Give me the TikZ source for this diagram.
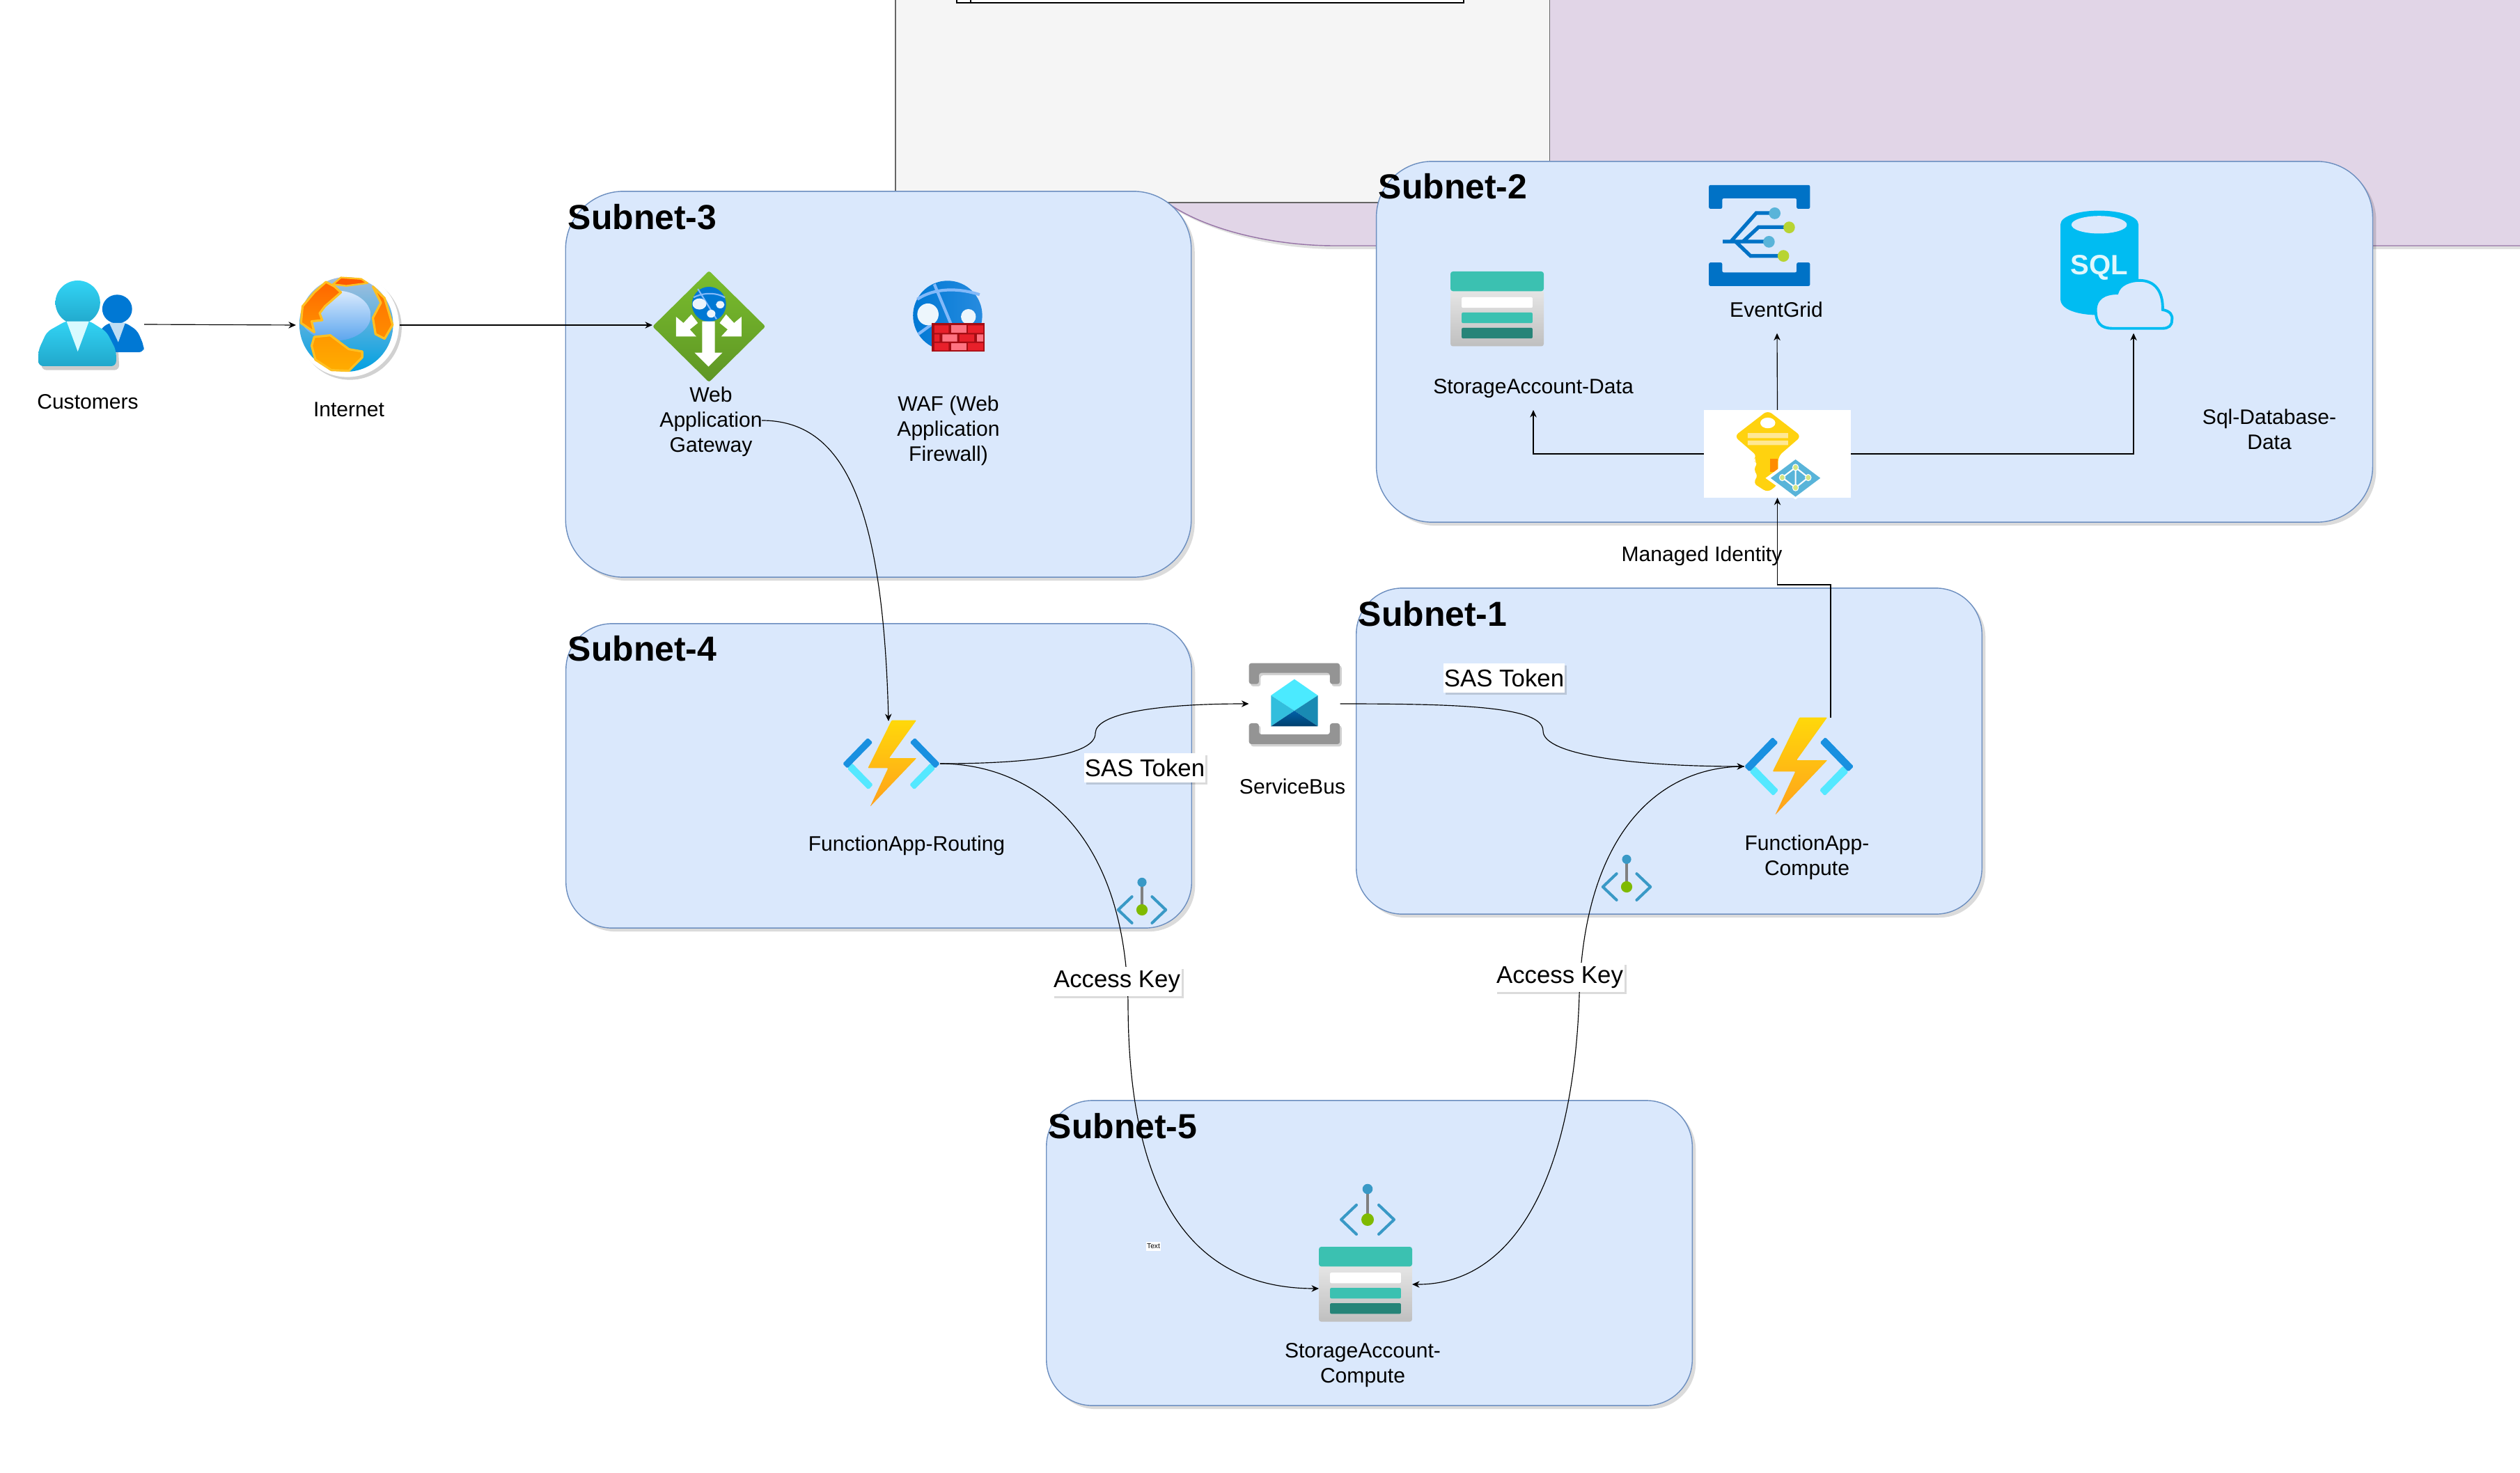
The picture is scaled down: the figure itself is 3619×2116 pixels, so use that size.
\documentclass[tikz,border=0pt]{standalone}
\usepackage{fontspec}
\setmainfont{Liberation Sans}
\usetikzlibrary{arrows.meta,shadows}
\definecolor{subfill}{HTML}{DAE8FC}
\definecolor{subline}{HTML}{6C8EBF}
\definecolor{purfill}{HTML}{E1D5E7}
\definecolor{purline}{HTML}{9673A6}
\definecolor{grayfill}{HTML}{F5F5F5}
\definecolor{grayline}{HTML}{666666}
\definecolor{fnDark}{HTML}{1990E0}
\definecolor{fnLight}{HTML}{54E8FF}
\definecolor{boltTop}{HTML}{FFD80A}
\definecolor{boltBot}{HTML}{FFA01C}
\definecolor{tealMid}{HTML}{3BC1B1}
\definecolor{tealDark}{HTML}{268478}
\definecolor{peBlue}{HTML}{3999C6}
\definecolor{peGreen}{HTML}{7FBA00}
\definecolor{agTop}{HTML}{7ABD2E}
\definecolor{agBot}{HTML}{5E9624}
\definecolor{sqlBlue}{HTML}{00BCF2}
\definecolor{egBlue}{HTML}{0072C6}
\definecolor{egDot}{HTML}{59B4D9}
\definecolor{egGreen}{HTML}{B8D432}
\definecolor{keyYellow}{HTML}{FFD20F}
\definecolor{keyPale}{HTML}{FFE894}
\definecolor{azBlue}{HTML}{0078D4}
\definecolor{azLight}{HTML}{83B9F9}
\definecolor{brickDark}{HTML}{A30D13}
\definecolor{brickRed}{HTML}{E8202A}
\definecolor{brickPink}{HTML}{FF7381}
\definecolor{sbGray}{HTML}{949494}
\definecolor{landYellow}{HTML}{FFC022}
\definecolor{envLeft}{HTML}{32BEDD}
\definecolor{envRight}{HTML}{198AB3}
\definecolor{personTop}{HTML}{32D4F5}
\definecolor{personBot}{HTML}{21A7CB}
\tikzset{
  subnet/.style={draw=subline,fill=subfill,line width=.4pt,inner sep=0pt,
    general shadow={fill=black,opacity=.14,shadow xshift=.05cm,shadow yshift=-.05cm}},
  subtitle/.style={font=\fontsize{14.2}{16}\selectfont\bfseries,anchor=west,inner sep=0pt},
  captext/.style={font=\fontsize{8.55}{10.2}\selectfont,align=center,inner sep=0pt},
  edgelabel/.style={fill=white,font=\fontsize{9.9}{11}\selectfont,inner sep=0pt,
    minimum height=.41cm,
    general shadow={fill=black,opacity=.14,shadow xshift=.03cm,shadow yshift=-.03cm}},
  iconbox/.style={inner sep=0pt,outer sep=0pt},
  conn/.style={draw=black,line width=.33pt,-{Stealth[length=3pt,width=2.7pt]}},
}
% function app icon, origin at its centre
\newcommand{\funcicon}[4]{\begin{scope}[shift={(#1,#2)},xscale=#3,yscale=#4]
  \fill[fnLight,rounded corners=.5pt] (-71,8)--(-63.5,-1)--(-29.5,34)--(-37,42.3)--cycle;
  \fill[fnLight,rounded corners=.5pt] (71,8)--(63.5,-1)--(29.5,34)--(37,42.3)--cycle;
  \fill[fnDark,rounded corners=.5pt] (-78.5,0)--(-38,-42)--(-30,-34.3)--(-71,7.7)--cycle;
  \fill[fnDark,rounded corners=.5pt] (78.5,0)--(38,-42)--(30,-34.3)--(71,7.7)--cycle;
  \path[top color=boltTop,bottom color=boltBot,rounded corners=.3pt]
    (.5,-70.3)--(40.5,-70.3)--(-3.5,-9)--(40.8,-9)--(-34.2,69.7)--(-5.2,7.3)--(-37.8,7.3)--cycle;
\end{scope}}
% storage icon: left, top, width, height
\newcommand{\storeicon}[4]{\begin{scope}[shift={(#1,#2)},xscale=#3/401,yscale=#4/323]
  \path[top color=black!10,bottom color=black!25,rounded corners=1pt] (0,80)--(0,323)--(401,323)--(401,80)--cycle;
  \fill[tealMid,rounded corners=1pt] (0,85)--(0,0)--(401,0)--(401,85)--cycle;
  \fill[white,rounded corners=.6pt] (48,111) rectangle (353,157);
  \fill[tealMid,rounded corners=.6pt] (48,177) rectangle (353,223);
  \fill[tealDark,rounded corners=.6pt] (48,243) rectangle (353,289);
\end{scope}}
% private endpoint icon, origin at the green dot
\newcommand{\peicon}[4]{\begin{scope}[shift={(#1,#2)},xscale=#3,yscale=#4]
  \draw[black!50,line width=1.2pt] (0,-44)--(0,0);
  \fill[peBlue] (0,-44) circle (7.3);
  \fill[peGreen] (0,0) circle (9);
  \draw[peBlue,line width=1.15pt,line cap=round,line join=round] (-16,-21)--(-38,0)--(-16,21);
  \draw[peBlue,line width=1.15pt,line cap=round,line join=round] (16,-21)--(38,0)--(16,21);
\end{scope}}
\begin{document}
\begin{tikzpicture}[x=.01cm,y=-.01cm]
\useasboundingbox (0,0) rectangle (3619,2116);
\fill[white] (0,0) rectangle (3619,2116);

% background panels
\fill[black,opacity=.12] (1680,296) .. controls (1735,333) and (1830,358) .. (1920,358) -- (3619,358) -- (3619,353) -- (1916,353) -- cycle;
\path[fill=purfill] (2225,0) -- (2225,291) -- (1676,291) .. controls (1732,331) and (1830,353) .. (1916,353) -- (3619,353) -- (3619,0) -- cycle;
\draw[purline,line width=.4pt] (1676,291) .. controls (1732,331) and (1830,353) .. (1916,353) -- (3619,353);
\path[fill=grayfill] (1286,0) rectangle (2225.5,291);
\draw[grayline,line width=.4pt] (1286,0) -- (1286,291) -- (2225.5,291) -- (2225.5,0);
\path[fill=white] (1374,0) rectangle (2102,4);
\draw[black,line width=.5pt] (1374,0) -- (1374,4) -- (2102,4) -- (2102,0);
\draw[black,line width=.4pt] (1394,0) -- (1394,4);

% subnets
\node[subnet,rounded corners=.83cm,minimum width=8.98cm,minimum height=5.54cm] (s3) at (1261.5,552) {};
\node[subnet,rounded corners=.80cm,minimum width=14.30cm,minimum height=5.18cm] (s2) at (2692,491) {};
\node[subnet,rounded corners=.66cm,minimum width=8.98cm,minimum height=4.37cm] (s4) at (1262,1114.5) {};
\node[subnet,rounded corners=.66cm,minimum width=8.98cm,minimum height=4.68cm] (s1) at (2397,1079) {};
\node[subnet,rounded corners=.66cm,minimum width=9.27cm,minimum height=4.38cm] (s5) at (1966.5,1800) {};
\node[subtitle] (t3) at (815,312) {Subnet-3};
\node[subtitle] (t2) at (1979,268) {Subnet-2};
\node[subtitle] (t4) at (815,932) {Subnet-4};
\node[subtitle] (t1) at (1950,882) {Subnet-1};
\node[subtitle] (t5) at (1505,1618) {Subnet-5};

% customers icon
\node[iconbox,minimum width=1.52cm,minimum height=1.26cm] (cust) at (131,466) {};
\begin{scope}[shift={(0,340)},xscale=.765,yscale=.3333]
  \fill[black,opacity=.2,rounded corners=2pt] (78,575)--(78,480)--(110,395)--(170,395)--(222,480)--(224,575)--cycle;
  \fill[azBlue] (220,312) ellipse (28 and 62);
  \fill[azBlue,rounded corners=2pt] (188,400)--(205,370)--(235,370)--(258,405)--(270,470)--(270,498)--(180,498)--cycle;
  \fill[white!75!azBlue] (205,372)--(235,372)--(222,455)--cycle;
  \path[top color=personTop,bottom color=personBot,rounded corners=2pt] (72,558)--(72,490)--(88,410)--(125,362)--(167,362)--(200,410)--(218,490)--(218,558)--cycle;
  \path[top color=personTop,middle color=personTop,bottom color=personBot] (146,284) ellipse (42 and 95);
  \fill[white!78!fnLight] (125,365)--(167,365)--(146,495)--cycle;
\end{scope}

% internet globe
\node[iconbox,minimum width=1.49cm,minimum height=1.50cm] (inet) at (499.5,467) {};
\begin{scope}[shift={(0,340)},xscale=.765,yscale=.3333]
  \fill[black,opacity=.18] (657,392) ellipse (97 and 225);
  \fill[white] (652,380) ellipse (97 and 225);
  \path[top color=black!20!azLight!60!white,bottom color=azBlue!70!cyan] (650,378) ellipse (88 and 204);
  \path[top color=azLight!30!white,bottom color=azLight!70!azBlue] (630,340) ellipse (66 and 108);
  \path[top color=orange!80!red,bottom color=orange!85!yellow,draw=landYellow,line width=.9pt,line join=round] (565,372)--(568,300)--(590,240)--(612,195)--(628,215)--(640,240)--(610,300)--(600,330)--(605,360)--(585,365)--(590,412)--cycle;
  \path[fill=orange!70!red,draw=landYellow,line width=.7pt,line join=round] (625,205)--(640,176)--(678,182)--(690,200)--(650,212)--cycle;
  \path[top color=orange!80!yellow,bottom color=orange!65!yellow,draw=landYellow,line width=.9pt,line join=round] (590,432)--(620,425)--(655,485)--(680,495)--(680,520)--(655,578)--(622,575)--(592,530)--(585,470)--cycle;
  \path[top color=orange!90!red,bottom color=orange!90!yellow,draw=landYellow,line width=.9pt,line join=round] (700,215)--(722,265)--(737,380)--(722,440)--(705,420)--(700,350)--(715,285)--cycle;
\end{scope}

% application gateway
\node[iconbox,minimum width=1.62cm,minimum height=1.60cm] (ag) at (1018,469) {};
\begin{scope}[shift={(0,340)},xscale=.765,yscale=.3333]
  \path[top color=agTop,bottom color=agBot,rounded corners=.8pt] (1331,147)--(1437,387)--(1331,627)--(1225,387)--cycle;
  \fill[azBlue] (1331,291) ellipse (32 and 75);
  \draw[azLight,line width=.6pt] (1310,225)--(1345,355) (1302,262) .. controls (1320,240) and (1345,240) .. (1361,262);
  \fill[white!92!azBlue] (1313,290) ellipse (13 and 24);
  \fill[white!92!azBlue] (1352,293) ellipse (8 and 16);
  \fill[white!92!azBlue] (1335,332) ellipse (8 and 17);
  \fill[white] (1318,365)--(1342,365)--(1342,500)--(1356,500)--(1330,560)--(1304,500)--(1318,500)--cycle;
  \fill[white] (1269,345)--(1269,430)--(1307,430)--(1295,400)--(1310,372)--(1298,335)--(1283,372)--cycle;
  \fill[white] (1392,345)--(1392,430)--(1354,430)--(1366,400)--(1351,372)--(1363,335)--(1378,372)--cycle;
\end{scope}

% web application firewall
\node[iconbox,minimum width=1.04cm,minimum height=1.02cm] (waf) at (1362,454) {};
\begin{scope}[shift={(1250,0)},xscale=.765,yscale=.3333]
  \path[left color=azBlue,right color=azBlue!70!azLight] (145,1360) ellipse (65 and 150);
  \draw[azLight,line width=1.2pt] (120,1225)--(170,1500) (88,1290) .. controls (120,1240) and (165,1240) .. (205,1270) (90,1440)--(120,1390);
  \fill[white!93!azBlue] (108,1355) ellipse (20 and 47);
  \fill[white!93!azBlue] (184,1365) ellipse (14 and 33);
  \fill[brickDark] (115,1392) rectangle (215,1515);
  \fill[brickRed] (120,1402) rectangle (147,1435) (183,1402) rectangle (212,1435);
  \fill[brickPink] (151,1402) rectangle (180,1435);
  \fill[brickRed] (120,1441) rectangle (130,1472) (167,1441) rectangle (195,1472);
  \fill[brickPink] (135,1441) rectangle (163,1472) (200,1441) rectangle (212,1472);
  \fill[brickRed] (120,1478) rectangle (147,1510) (183,1478) rectangle (212,1510);
  \fill[brickPink] (151,1478) rectangle (180,1510);
\end{scope}

% function apps
\node[iconbox,minimum width=1.40cm,minimum height=1.24cm] (fr) at (1280,1097) {};
\funcicon{1280}{1097}{.89}{.886}
\node[iconbox,minimum width=1.57cm,minimum height=1.40cm] (fc) at (2583.5,1101) {};
\funcicon{2583.5}{1101}{1}{1}

% service bus
\node[iconbox,minimum width=1.31cm,minimum height=1.16cm] (sb) at (1859,1011) {};
\begin{scope}[shift={(1150,920)},xscale=.51,yscale=.3333]
  \begin{scope}[shift={(5,10)}]
    \fill[black,opacity=.18,rounded corners=1pt] (1262,98)--(1518,98)--(1518,188)--(1490,188)--(1490,140)--(1290,140)--(1290,188)--(1262,188)--cycle;
    \fill[black,opacity=.18,rounded corners=1pt] (1262,447)--(1518,447)--(1518,357)--(1490,357)--(1490,405)--(1290,405)--(1290,357)--(1262,357)--cycle;
  \end{scope}
  \fill[sbGray,rounded corners=1pt] (1262,98)--(1518,98)--(1518,188)--(1490,188)--(1490,140)--(1290,140)--(1290,188)--(1262,188)--cycle;
  \fill[sbGray,rounded corners=1pt] (1262,447)--(1518,447)--(1518,357)--(1490,357)--(1490,405)--(1290,405)--(1290,357)--(1262,357)--cycle;
  \fill[fnLight!90!cyan] (1390,167)--(1456,237)--(1390,303)--(1324,237)--cycle;
  \fill[envLeft] (1324,237)--(1390,303)--(1324,370)--cycle;
  \fill[envRight] (1456,237)--(1390,303)--(1456,370)--cycle;
  \path[top color=egBlue!85!black,bottom color=egBlue!55!black] (1324,370)--(1390,303)--(1456,370)--cycle;
\end{scope}

% storage accounts
\node[iconbox,minimum width=1.34cm,minimum height=1.07cm] (sa5) at (1961,1845) {};
\storeicon{1894}{1791}{134}{107.7}
\node[iconbox,minimum width=1.34cm,minimum height=1.07cm] (sa2) at (2150,443.5) {};
\storeicon{2083}{390}{134}{107.5}

% private endpoints
\peicon{1640}{1307}{.9}{.9}
\peicon{2336}{1274}{.9}{.9}
\peicon{1964}{1752}{1}{1}

% event grid
\node[iconbox,minimum width=1.45cm,minimum height=1.45cm] (eg) at (2526,338) {};
\begin{scope}[shift={(2300,200)},xscale=.829,yscale=.3827]
  \fill[egBlue,rounded corners=.6pt] (186,172)--(361,172)--(361,261)--(338,261)--(338,222)--(209,222)--(209,261)--(186,261)--cycle;
  \fill[egBlue,rounded corners=.6pt] (186,551)--(361,551)--(361,463)--(338,463)--(338,500)--(209,500)--(209,463)--(186,463)--cycle;
  \draw[egBlue,line width=1.5pt] (210,384)--(285,384) (224,384)--(268,277)--(296,277) (245,384)--(272,330)--(320,330) (232,384)--(258,438)--(310,438);
  \fill[egDot] (300,278) ellipse (10 and 22);
  \fill[egGreen] (325,331) ellipse (10 and 22);
  \fill[egDot] (290,385) ellipse (10 and 22);
  \fill[egGreen] (315,438) ellipse (10 and 22);
\end{scope}

% sql database
\node[iconbox,minimum width=1.62cm,minimum height=1.70cm] (sql) at (3040,387) {};
\begin{scope}[shift={(2300,200)},xscale=.829,yscale=.3827]
  \fill[sqlBlue] (795,320) .. controls (795,290) and (825,268) .. (862,268) .. controls (900,268) and (930,290) .. (930,320) -- (930,620) .. controls (930,640) and (900,660) .. (862,660) .. controls (825,660) and (795,640) .. (795,600) -- cycle;
  \fill[subfill] (862,321) ellipse (48 and 33);
  \node[inner sep=0pt,text=white!88!sqlBlue,font=\fontsize{11.4}{12}\selectfont\bfseries] (sqltxt) at (862,482) {SQL};
  \path[fill=subfill,draw=sqlBlue,line width=1.1pt] (885,710) .. controls (865,710) and (856,690) .. (856,640) .. controls (856,600) and (870,578) .. (893,578) .. controls (897,545) and (915,530) .. (932,530) .. controls (958,530) and (973,570) .. (972,640) .. controls (985,645) and (990,660) .. (988,680) .. controls (988,700) and (982,710) .. (972,710) -- cycle;
\end{scope}

% managed identity key
\node[iconbox,fill=white,minimum width=2.11cm,minimum height=1.26cm] (mi) at (2552.5,652) {};
\begin{scope}[shift={(2300,200)},xscale=.829,yscale=.3827]
  \fill[keyYellow,rounded corners=2pt] (288,1018)--(346,1115)--(306,1190)--(306,1295)--(288,1326)--(262,1290)--(272,1262)--(262,1240)--(272,1215)--(262,1205)--(270,1190)--(230,1115)--cycle;
  \fill[orange!90!yellow] (292,1200) rectangle (305,1250);
  \fill[white] (288,1065) ellipse (13 and 20);
  \fill[keyPale] (253,1103) rectangle (323,1122) (253,1131) rectangle (323,1148);
  \fill[white] (336,1190)--(388,1272)--(336,1352)--(284,1272)--cycle;
  \fill[egDot] (336,1202)--(379,1272)--(336,1342)--(293,1272)--cycle;
  \draw[white,line width=.6pt] (336,1232)--(336,1308)--(313,1270)--(336,1232)--(358,1270)--(336,1308);
  \fill[white!40!egGreen,draw=white,line width=.3pt] (336,1232) ellipse (5 and 12) (336,1308) ellipse (5 and 12) (313,1270) ellipse (5 and 12) (358,1270) ellipse (5 and 12);
\end{scope}

% captions
\node[captext] (lcust) at (126,577) {Customers};
\node[captext] (linet) at (501,588) {Internet};
\node[captext] (tag) at (1021,606) {Web\\Application\\Gateway};
\node[captext] (lwaf) at (1362,618.5) {WAF (Web\\Application\\Firewall)};
\node[captext] (lsa2) at (2202,558.5) {StorageAccount-Data};
\node[captext] (leg) at (2551,445) {EventGrid};
\node[captext] (lsql) at (3259,616.5) {Sql-Database-\\Data};
\node[captext] (lfr) at (1302,1214.5) {FunctionApp-Routing};
\node[captext] (lsb) at (1856,1130) {ServiceBus};
\node[captext] (lfc) at (2595,1232) {FunctionApp-\\Compute};
\node[captext] (lsa5) at (1957,1961) {StorageAccount-\\Compute};
\node[captext] (lmi) at (2444,798.5) {Managed Identity};

% free ends of connectors
\coordinate (egin) at (2552,478.6);
\coordinate (sqlin) at (3064,478.6);
\coordinate (sain) at (2202,589);
\coordinate (fcout) at (2629,1031);
\coordinate (mibend) at (2552.5,840);
\coordinate (frin) at (1276,1036);
\coordinate (tagout) at (1094,604);

% connectors
\draw[conn] (cust.east) -- (inet.west);
\draw[conn] (inet.east) -- (inet.east -| ag.west);
\draw[conn] (tagout) .. controls (1210,604) and (1268,720) .. (frin);
\draw[conn] (fr.east) .. controls +(130,0) and (1574,1085) .. (1573,1053) .. controls (1574,1025) and (1660,1011) .. (sb.west);
\draw[conn] (sb.east) .. controls +(175,0) and (2216,1015) .. (2216,1050) .. controls (2216,1085) and (2350,1101) .. (fc.west);
\draw[conn] (fr.east) .. controls +(130,0) and (1615,1190) .. (1620,1440) .. controls (1620,1700) and (1700,1851) .. ([yshift=-.06cm]sa5.west);
\draw[conn] (fc.west) .. controls +(-125,0) and (2275,1200) .. (2268,1430) .. controls (2260,1680) and (2180,1846) .. (sa5.east);
\draw[conn] (mi.north) -- (egin);
\draw[conn] (mi.east) -| (sqlin);
\draw[conn] (mi.west) -| (sain);
\draw[conn] (fcout) |- (mibend) -- (mi.south);

% connector labels
\node[edgelabel,minimum width=1.74cm] (sas1) at (1644,1103) {SAS Token};
\node[edgelabel,minimum width=1.74cm] (sas2) at (2160,974) {SAS Token};
\node[edgelabel,minimum width=1.85cm] (ak1) at (1604,1410) {Access Key};
\node[edgelabel,minimum width=1.85cm] (ak2) at (2240,1404) {Access Key};
\node[fill=white,inner sep=0pt,minimum width=.21cm,minimum height=.13cm,font=\fontsize{2.9}{3.5}\selectfont] (txt) at (1656.5,1790.5) {Text};
\end{tikzpicture}
\end{document}
